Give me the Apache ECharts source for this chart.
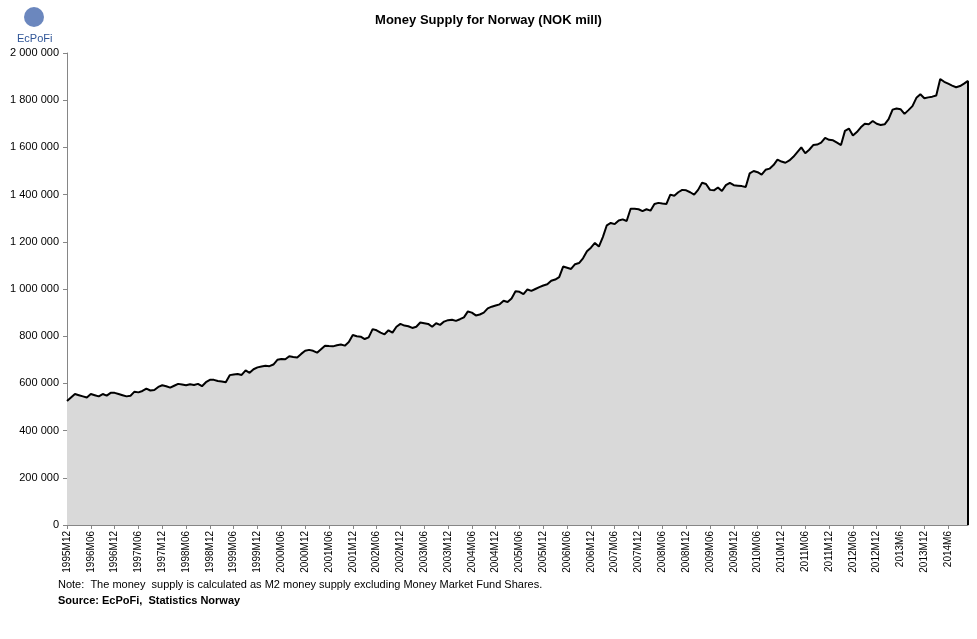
<!DOCTYPE html>
<html>
<head>
<meta charset="utf-8">
<script src="https://cdn.jsdelivr.net/npm/echarts@6/dist/echarts.min.js"></script>
<style>
html, body { margin: 0; padding: 0; background: #fff; }
#main { width: 977px; height: 639px; }
</style>
</head>
<body>
<div id="main"></div>
<script>
// money supply M2 excl. money market fund shares, NOK mill, monthly 1995M12 .. 2014M11
var firstYear = 1995, firstMonth = 12;
var values = [
	525000,
	540000,555000,550000,545000,540000,555000,550000,545000,555000,548000,560000,560000,
	555000,550000,545000,548000,565000,562000,568000,578000,570000,572000,585000,592000,
	588000,582000,590000,598000,595000,592000,596000,593000,598000,588000,605000,615000,
	615000,610000,608000,605000,635000,638000,640000,636000,655000,645000,660000,668000,
	672000,675000,673000,680000,700000,703000,702000,715000,712000,710000,725000,738000,
	742000,738000,730000,745000,760000,758000,757000,762000,765000,760000,775000,805000,
	800000,798000,788000,795000,830000,825000,815000,808000,825000,815000,840000,852000,
	845000,842000,835000,840000,858000,855000,852000,840000,855000,848000,862000,868000,
	870000,865000,872000,880000,905000,900000,888000,892000,900000,918000,925000,930000,
	935000,950000,945000,960000,990000,988000,978000,998000,992000,1000000,1008000,1015000,
	1020000,1035000,1040000,1050000,1095000,1090000,1085000,1105000,1110000,1130000,1160000,1175000,
	1195000,1180000,1220000,1270000,1280000,1275000,1290000,1295000,1288000,1340000,1340000,1338000,
	1330000,1338000,1332000,1360000,1365000,1362000,1360000,1400000,1395000,1410000,1420000,1418000,
	1410000,1400000,1420000,1450000,1445000,1420000,1418000,1430000,1415000,1440000,1450000,1440000,
	1438000,1436000,1432000,1490000,1500000,1495000,1485000,1505000,1510000,1525000,1548000,1540000,
	1535000,1545000,1560000,1580000,1600000,1575000,1590000,1610000,1612000,1620000,1640000,1632000,
	1630000,1620000,1610000,1670000,1680000,1650000,1665000,1685000,1700000,1698000,1712000,1700000,
	1695000,1698000,1720000,1760000,1765000,1762000,1742000,1758000,1775000,1810000,1825000,1808000,
	1812000,1815000,1820000,1890000,1878000,1870000,1862000,1855000,1860000,1870000,1882000
];

var categories = [];
var y = firstYear, m = firstMonth;
for (var i = 0; i < values.length; i++) {
	// source switches from M06 to M6 from 2013
	var mm = (m < 10 && y < 2013) ? '0' + m : '' + m;
	categories.push(y + 'M' + mm);
	m++;
	if (m > 12) { m = 1; y++; }
}

function fmt(v) {
	return String(v).replace(/\B(?=(\d{3})+(?!\d))/g, ' ');
}

var chart = echarts.init(document.getElementById('main'));
chart.setOption({
	animation: false,
	textStyle: { fontFamily: 'Liberation Sans, Arial, sans-serif' },
	title: {
		text: 'Money Supply for Norway (NOK mill)',
		left: 'center', top: 9,
		textStyle: { fontSize: 13, fontWeight: 'bold', color: '#000' }
	},
	grid: { left: 67, right: 9, top: 53, bottom: 114 },
	xAxis: {
		type: 'category',
		boundaryGap: false,
		data: categories,
		axisLine: { lineStyle: { color: '#868686' } },
		axisTick: { interval: 5, length: 4, lineStyle: { color: '#868686' } },
		axisLabel: { interval: 5, rotate: 90, fontSize: 10, color: '#000', margin: 6 }
	},
	yAxis: {
		type: 'value',
		min: 0, max: 2000000, interval: 200000,
		splitLine: { show: false },
		axisLine: { show: true, lineStyle: { color: '#868686' } },
		axisTick: { show: true, length: 4, lineStyle: { color: '#868686' } },
		axisLabel: { fontSize: 11, color: '#000', formatter: fmt }
	},
	series: [{
		type: 'line',
		data: values,
		symbol: 'none',
		lineStyle: { color: '#000', width: 2 },
		areaStyle: { color: '#d9d9d9', opacity: 1 },
		markLine: {
			silent: true, symbol: 'none', label: { show: false },
			lineStyle: { color: '#000', width: 2, type: 'solid' },
			data: [[{ coord: [categories.length - 1, 0] }, { coord: [categories.length - 1, values[values.length - 1]] }]]
		}
	}],
	graphic: [
		{ type: 'circle', shape: { cx: 34, cy: 17, r: 10 }, style: { fill: '#3a5fa8', opacity: 0.75 } },
		{ type: 'text', left: 17, top: 33, style: { text: 'EcPoFi', fontSize: 11, fill: '#2f5597', fontFamily: 'Liberation Sans' } },
		{ type: 'text', left: 58, top: 579, style: { text: 'Note:  The money  supply is calculated as M2 money supply excluding Money Market Fund Shares.', fontSize: 11, fill: '#000', fontFamily: 'Liberation Sans' } },
		{ type: 'text', left: 58, top: 595, style: { text: 'Source: EcPoFi,  Statistics Norway', fontSize: 11, fontWeight: 'bold', fill: '#000', fontFamily: 'Liberation Sans' } }
	]
});
</script>
</body>
</html>
